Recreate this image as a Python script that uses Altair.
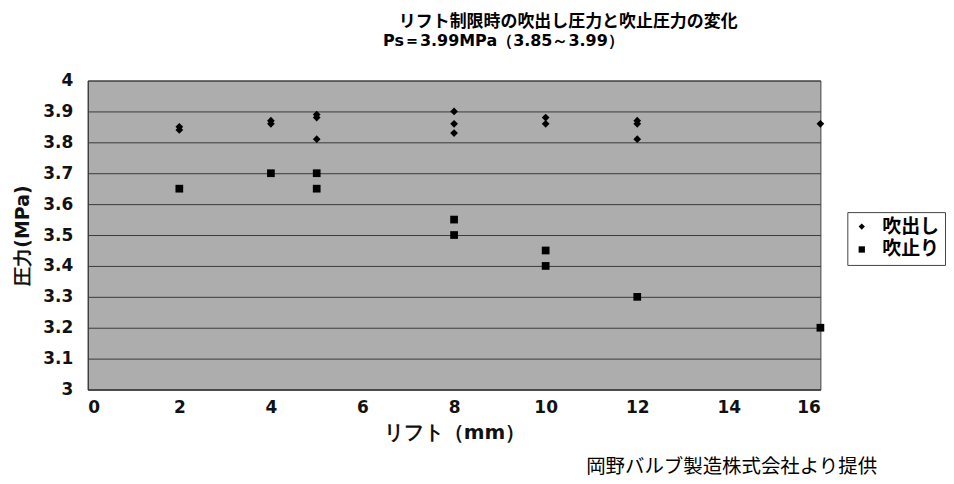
import altair as alt
import pandas as pd

# 吹出し (blow-out pressure) points
blow_x = [2, 2, 4, 4, 5, 5, 5, 8, 8, 8, 10, 10, 12, 12, 12, 16]
blow_y = [3.85, 3.84, 3.87, 3.86, 3.89, 3.88, 3.81, 3.90, 3.86, 3.83, 3.88, 3.86, 3.87, 3.86, 3.81, 3.86]
# 吹止り (blow-down/reseat pressure) points
stop_x = [2, 4, 5, 5, 8, 8, 10, 10, 12, 16]
stop_y = [3.65, 3.70, 3.70, 3.65, 3.55, 3.50, 3.45, 3.40, 3.30, 3.20]

series_names = ["吹出し", "吹止り"]
x_ticks = [0, 2, 4, 6, 8, 10, 12, 14, 16]
y_ticks = [3.0, 3.1, 3.2, 3.3, 3.4, 3.5, 3.6, 3.7, 3.8, 3.9, 4.0]

title1 = "リフト制限時の吹出し圧力と吹止圧力の変化"
title2 = "Ps＝3.99MPa（3.85～3.99）"
credit = "岡野バルブ製造株式会社より提供"

df = pd.DataFrame({
    "lift": blow_x + stop_x,
    "pressure": blow_y + stop_y,
    "series": [series_names[0]] * len(blow_x) + [series_names[1]] * len(stop_x),
})

FONT = "DejaVu Sans"
JFONT = "Noto Sans CJK JP"

points = alt.Chart(df).mark_point(filled=True, opacity=1, color="black", size=60).encode(
    x=alt.X("lift:Q", scale=alt.Scale(domain=[0, 16], nice=False),
            axis=alt.Axis(values=x_ticks, title="リフト（mm）", grid=False, ticks=False,
                          labelPadding=10, titlePadding=7, domain=True,
                          domainColor="#333", labelFontSize=17, titleFontSize=20,
                          labelFont=FONT, titleFont=FONT, labelFontWeight="bold",
                          titleFontWeight="bold", labelColor="#111", titleColor="#111")),
    y=alt.Y("pressure:Q", scale=alt.Scale(domain=[3, 4], nice=False, zero=False),
            axis=alt.Axis(values=y_ticks, title="圧力(MPa)", grid=True, ticks=False,
                          gridColor="#3a3a3a", gridWidth=1, gridOpacity=1,
                          labelExpr="datum.value == 4 ? '4' : datum.value == 3 ? '3' : format(datum.value, '.1f')",
                          labelPadding=15, titlePadding=10, domainColor="#333",
                          labelFontSize=17, titleFontSize=19,
                          labelFont=FONT, titleFont=FONT, labelFontWeight="bold",
                          titleFontWeight="bold", labelColor="#111", titleColor="#111")),
    shape=alt.Shape("series:N",
                    scale=alt.Scale(domain=series_names, range=["diamond", "square"]),
                    legend=alt.Legend(title=None, orient="none", legendX=762, legendY=132,
                                      strokeColor="#444", fillColor="white", padding=5,
                                      labelFontSize=19, labelFont=JFONT, labelFontWeight="bold",
                                      labelOffset=11, symbolSize=40, symbolType="diamond",
                                      symbolFillColor="black", symbolStrokeColor="black",
                                      rowPadding=3, labelColor="black")),
)

t1 = alt.Chart(pd.DataFrame({"t": [title1]})).mark_text(
    fontSize=17, fontWeight="bold", font=JFONT, color="black",
    align="center", baseline="middle").encode(
    x=alt.value(482), y=alt.value(-59), text="t:N")
t2 = alt.Chart(pd.DataFrame({"t": [title2]})).mark_text(
    fontSize=16, fontWeight="bold", font=FONT, color="black",
    align="center", baseline="middle").encode(
    x=alt.value(417), y=alt.value(-40), text="t:N")
t3 = alt.Chart(pd.DataFrame({"t": [credit]})).mark_text(
    fontSize=19.5, font=JFONT, color="black",
    align="left", baseline="middle").encode(
    x=alt.value(500), y=alt.value(388), text="t:N")

chart = alt.layer(points, t1, t2, t3).properties(
    width=735, height=310,
    autosize=alt.AutoSizeParams(type="none"),
    padding={"left": 80, "top": 72, "right": 126, "bottom": 90},
    background="white",
).configure_view(
    fill="#adadad", stroke="#444", strokeWidth=1,
)

chart.save("out.html", embed_options={"renderer": "svg", "actions": False})
